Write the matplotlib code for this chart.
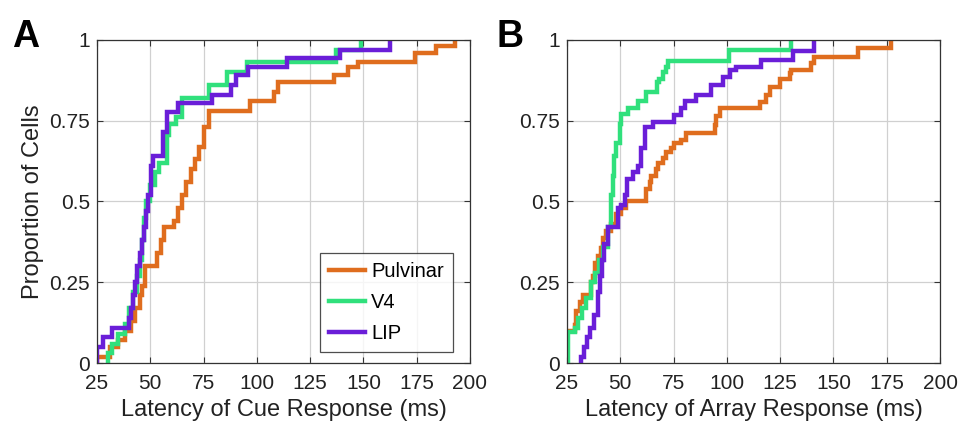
import matplotlib
matplotlib.use("Agg")
import matplotlib.pyplot as plt

plt.rcParams['font.family'] = ['Liberation Sans', 'DejaVu Sans']

areas = ["Pulvinar", "V4", "LIP"]
colors = {"Pulvinar": "#DF6D1E", "V4": "#30E07C", "LIP": "#6A1ED8"}

# Panel A: latency of cue response (ms) and cumulative proportion at each step
cue_pulv_x = [25, 31, 35, 38, 41, 43, 45, 46, 47.5, 53, 55, 56.5, 61, 63, 65, 67, 69, 71, 73, 75, 77.5, 97, 108, 110, 136, 143, 147.5, 174, 184, 193]
cue_pulv_y = [0.02, 0.05, 0.07, 0.10, 0.13, 0.17, 0.21, 0.24, 0.30, 0.34, 0.38, 0.42, 0.44, 0.48, 0.52, 0.56, 0.60, 0.63, 0.67, 0.73, 0.78, 0.81, 0.84, 0.87, 0.89, 0.915, 0.93, 0.96, 0.98, 1.0]

cue_v4_x = [30, 32, 35, 38, 40, 42, 44, 45, 46, 47, 48, 50, 52, 54, 57.7, 59, 62, 65, 77.7, 86, 95.5, 137, 149]
cue_v4_y = [0.03, 0.06, 0.09, 0.12, 0.17, 0.22, 0.27, 0.32, 0.38, 0.45, 0.50, 0.55, 0.59, 0.62, 0.705, 0.74, 0.76, 0.82, 0.86, 0.90, 0.93, 0.97, 1.0]

cue_lip_x = [25, 28, 32, 40, 41, 42, 43, 44, 45, 46, 47, 48, 49, 50.5, 51.5, 55.8, 58, 62.8, 79, 88, 90, 96, 114, 139, 162.6]
cue_lip_y = [0.05, 0.08, 0.11, 0.14, 0.17, 0.21, 0.25, 0.30, 0.34, 0.38, 0.42, 0.47, 0.52, 0.61, 0.64, 0.715, 0.777, 0.805, 0.83, 0.86, 0.89, 0.916, 0.944, 0.97, 1.0]

# Panel B: latency of array response (ms)
arr_pulv_x = [25, 28.6, 29.4, 30.9, 32.5, 36.4, 37.2, 38, 39.5, 41, 41.8, 43.4, 45.7, 48, 50.4, 52.8, 62.1, 63.7, 64.5, 66.8, 67.6, 70, 71.5, 73.8, 75.4, 78.5, 81, 94.3, 95.1, 96.6, 115.4, 118.5, 120, 124.7, 129.4, 130.2, 139.6, 141.1, 161.4, 177]
arr_pulv_y = [0.10, 0.118, 0.16, 0.19, 0.21, 0.25, 0.27, 0.31, 0.33, 0.355, 0.387, 0.41, 0.43, 0.46, 0.48, 0.50, 0.54, 0.56, 0.58, 0.60, 0.62, 0.634, 0.654, 0.665, 0.68, 0.69, 0.711, 0.737, 0.763, 0.788, 0.809, 0.83, 0.855, 0.88, 0.897, 0.907, 0.928, 0.948, 0.974, 1.0]

arr_v4_x = [25.5, 28.6, 30, 32, 34, 36.4, 38, 40, 42, 44.2, 45.8, 46.5, 47.2, 48, 49.7, 50.5, 53.6, 58.2, 62, 67, 68, 70, 71.5, 72.3, 101, 130]
arr_v4_y = [0.097, 0.11, 0.14, 0.17, 0.20, 0.25, 0.28, 0.32, 0.36, 0.42, 0.52, 0.58, 0.64, 0.68, 0.74, 0.77, 0.79, 0.81, 0.84, 0.87, 0.88, 0.90, 0.915, 0.935, 0.968, 1.0]

arr_lip_x = [31.7, 33, 34.5, 36, 37.5, 39.5, 40.5, 41.5, 42.5, 44.2, 48.9, 50.4, 52, 53, 55.9, 58.2, 59.8, 61.4, 65.3, 75.4, 78.5, 80.2, 85.7, 92.7, 98.2, 101.3, 104.4, 116.1, 130.9, 141.1]
arr_lip_y = [0.02, 0.05, 0.08, 0.11, 0.15, 0.22, 0.27, 0.32, 0.37, 0.42, 0.48, 0.49, 0.52, 0.57, 0.59, 0.61, 0.665, 0.73, 0.747, 0.768, 0.79, 0.81, 0.83, 0.86, 0.886, 0.907, 0.917, 0.938, 0.964, 1.0]

xticks = [25, 50, 75, 100, 125, 150, 175, 200]
yticks = [0, 0.25, 0.5, 0.75, 1]
yticklabels = ["0", "0.25", "0.5", "0.75", "1"]

panels = [
    ("A", "Latency of Cue Response (ms)",
     {"Pulvinar": (cue_pulv_x, cue_pulv_y), "V4": (cue_v4_x, cue_v4_y), "LIP": (cue_lip_x, cue_lip_y)}),
    ("B", "Latency of Array Response (ms)",
     {"Pulvinar": (arr_pulv_x, arr_pulv_y), "V4": (arr_v4_x, arr_v4_y), "LIP": (arr_lip_x, arr_lip_y)}),
]

fig = plt.figure(figsize=(9.65, 4.38), dpi=100)
rects = [[0.1005, 0.171, 0.3865, 0.738], [0.5876, 0.171, 0.3865, 0.738]]
letter_x = [0.012, 0.515]

for i, (letter, xlabel, data) in enumerate(panels):
    ax = fig.add_axes(rects[i])
    for area in areas:
        xs, ys = data[area]
        ax.step([xs[0]] + xs, [0] + ys, where="post", color=colors[area],
                lw=3.2, label=area, solid_joinstyle="miter")
    ax.set_xlim(25, 200)
    ax.set_ylim(0, 1)
    ax.set_xticks(xticks)
    ax.set_yticks(yticks)
    ax.set_yticklabels(yticklabels)
    ax.grid(True, color="#D0D0D0", lw=0.9)
    ax.set_axisbelow(True)
    ax.tick_params(direction="in", top=True, right=True, labelsize=15,
                   length=4, color="#333333", labelcolor="#222222")
    ax.tick_params(axis="x", pad=8)
    ax.tick_params(axis="y", pad=5)
    for s in ax.spines.values():
        s.set_color("#333333")
        s.set_linewidth(0.9)
    ax.set_xlabel(xlabel, fontsize=17, color="#222222", labelpad=4)
    if i == 0:
        ax.set_ylabel("Proportion of Cells", fontsize=17, color="#222222", labelpad=4)
        leg = ax.legend(loc="lower right", fontsize=14.5, frameon=True, fancybox=False,
                        edgecolor="#222222", handlelength=1.8, handletextpad=0.3,
                        borderpad=0.45, labelspacing=0.6, borderaxespad=0.0,
                        bbox_to_anchor=(0.954, 0.034))
        leg.get_frame().set_linewidth(0.9)
    fig.text(letter_x[i], 0.915, letter, fontsize=27, fontweight="bold",
             ha="left", va="center")

fig.savefig("out.png", dpi=100)
